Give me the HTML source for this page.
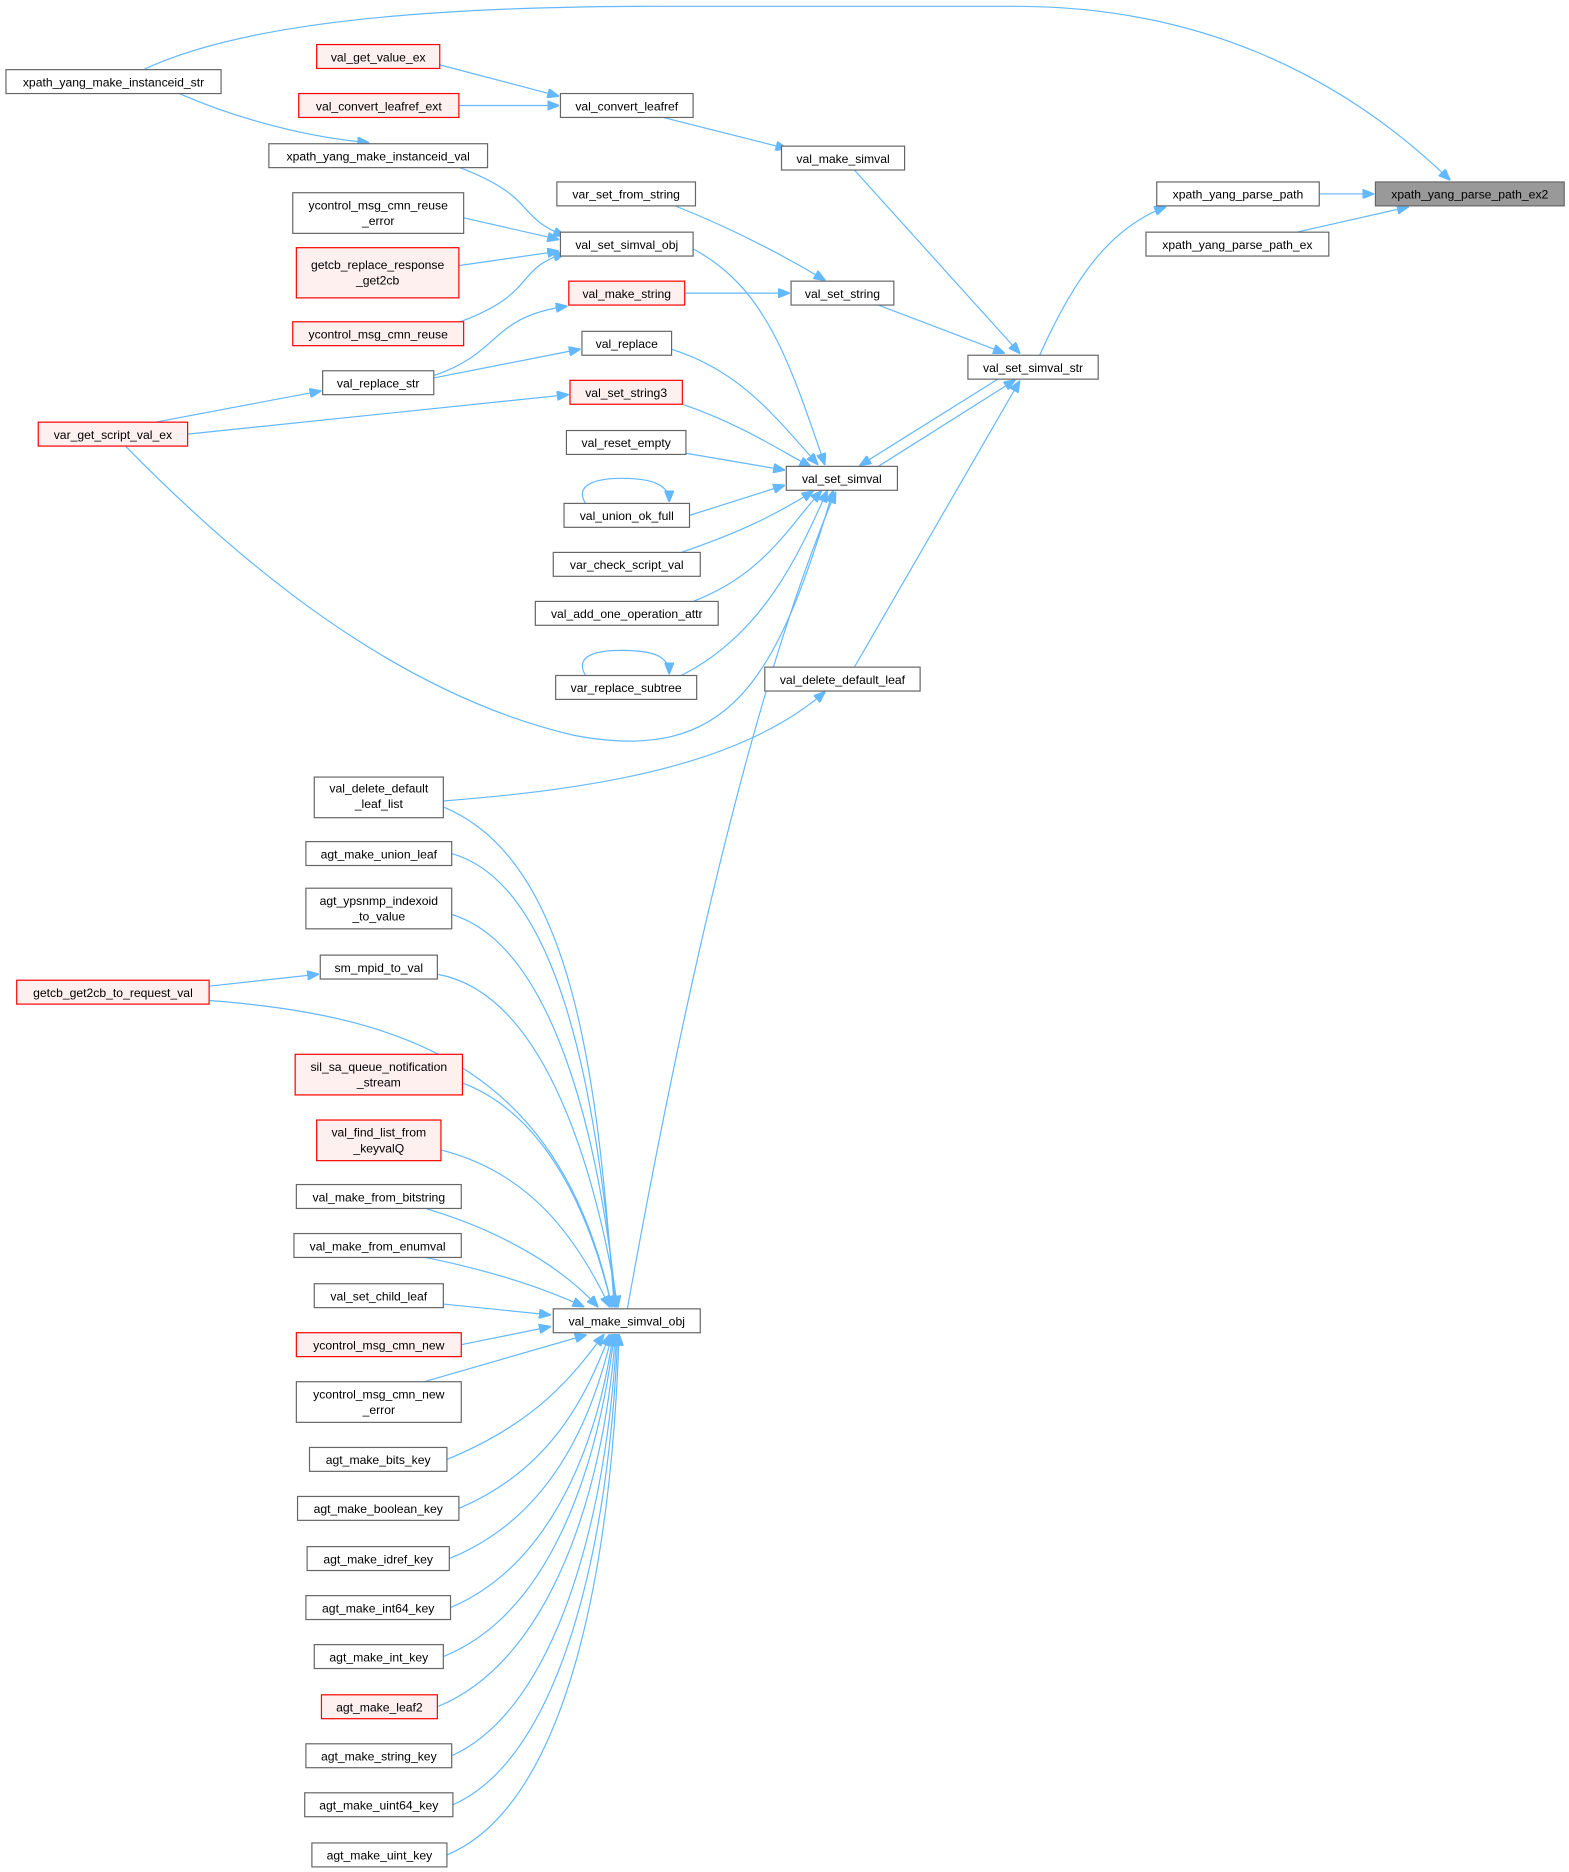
<!DOCTYPE html>
<html><head><meta charset="utf-8"><style>
html,body{margin:0;padding:0;background:#fff}
svg{display:block}
text{font-family:"Liberation Sans",sans-serif;font-size:10.2px;fill:#000;text-anchor:middle}
.n{fill:#fff;stroke:#666;stroke-width:1}
.r{fill:#fff0f0;stroke:#f00;stroke-width:1}
.g{fill:#999;stroke:#666;stroke-width:1}
path.e{fill:none;stroke:#63b8ff;stroke-width:1}
</style></head><body>
<svg width="1569" height="1872" viewBox="0 0 1313 1566" xmlns="http://www.w3.org/2000/svg">
<defs><marker id="a" markerWidth="10" markerHeight="8" refX="9" refY="4" orient="auto" markerUnits="userSpaceOnUse"><path d="M0,0 L10,4 L0,8 z" fill="#63b8ff" stroke="#63b8ff"/></marker></defs>
<g marker-end="url(#a)">
<path class="e" d="M120,58 C200,20 350,5 550,5 L850,5 C1000,5 1120,60 1213,150"/>
<path class="e" d="M150,78 C200,100 260,115 308,119"/>
<path class="e" d="M368,54 L467,80"/>
<path class="e" d="M384,88 L467,88"/>
<path class="e" d="M555,98 L658,124"/>
<path class="e" d="M715,142 L853,295"/>
<path class="e" d="M385,140 C450,165 430,180 472,197"/>
<path class="e" d="M388,182 L467,200"/>
<path class="e" d="M384,222 L467,210"/>
<path class="e" d="M385,269 C450,245 430,225 472,212"/>
<path class="e" d="M565,172 C610,190 650,210 690,234"/>
<path class="e" d="M573,245 L660,245"/>
<path class="e" d="M735,255 L840,295"/>
<path class="e" d="M870,297 C900,230 930,190 975,173"/>
<path class="e" d="M1104,162 L1149,162"/>
<path class="e" d="M1085,194 L1178,173"/>
<path class="e" d="M580,208 C640,240 660,300 690,388"/>
<path class="e" d="M363,314 C420,295 410,265 474,256"/>
<path class="e" d="M363,316 L485,292"/>
<path class="e" d="M562,292 C620,310 650,350 684,388"/>
<path class="e" d="M130,353 L268,327"/>
<path class="e" d="M157,363 L475,330"/>
<path class="e" d="M571,338 C620,355 650,375 678,390"/>
<path class="e" d="M574,379 L656,393"/>
<path class="e" d="M735,390 L849,318"/>
<path class="e" d="M835,317 L720,389"/>
<path class="e" d="M577,431 L656,406"/>
<path class="e" d="M490,421 C480,405 500,400 520,400 C545,400 560,405 560,419"/>
<path class="e" d="M570,462 C620,445 650,430 680,411"/>
<path class="e" d="M580,503 C640,480 660,440 687,411"/>
<path class="e" d="M570,565 C640,530 670,460 692,411"/>
<path class="e" d="M490,565 C480,548 500,544 520,544 C545,544 560,548 560,563"/>
<path class="e" d="M105,373 C200,470 330,580 480,615 C610,640 650,570 697,411"/>
<path class="e" d="M715,558 L853,319"/>
<path class="e" d="M525,1095 C560,900 620,600 699,412"/>
<path class="e" d="M371,670 C500,660 620,640 690,579"/>
<path class="e" d="M371,675 C480,720 500,900 514,1093"/>
<path class="e" d="M378,714 C470,740 500,920 515,1093"/>
<path class="e" d="M378,765 C460,790 500,940 516,1093"/>
<path class="e" d="M175,825 L266,815"/>
<path class="e" d="M366,815 C450,830 495,960 517,1093"/>
<path class="e" d="M175,837 C350,850 470,900 512,1093"/>
<path class="e" d="M387,906 C450,930 490,1000 512,1093"/>
<path class="e" d="M369,962 C440,980 480,1030 510,1093"/>
<path class="e" d="M356,1011 C420,1030 470,1060 500,1093"/>
<path class="e" d="M356,1052 C420,1065 460,1080 488,1093"/>
<path class="e" d="M371,1091 L460,1100"/>
<path class="e" d="M386,1125 L460,1110"/>
<path class="e" d="M355,1156 L490,1117"/>
<path class="e" d="M374,1221 C450,1190 480,1150 505,1117"/>
<path class="e" d="M384,1262 C460,1230 490,1170 510,1117"/>
<path class="e" d="M376,1304 C460,1270 495,1190 512,1117"/>
<path class="e" d="M377,1345 C460,1310 500,1210 513,1117"/>
<path class="e" d="M371,1386 C460,1350 500,1230 514,1117"/>
<path class="e" d="M366,1428 C460,1390 505,1250 515,1117"/>
<path class="e" d="M378,1469 C465,1430 508,1270 516,1117"/>
<path class="e" d="M379,1510 C470,1470 510,1290 517,1117"/>
<path class="e" d="M374,1552 C475,1510 512,1310 518,1117"/>
</g>
<g>
<rect class="n" x="5" y="58" width="180" height="20"/><text x="95" y="72">xpath_yang_make_instanceid_str</text>
<rect class="r" x="265" y="37" width="103" height="20"/><text x="316.5" y="51">val_get_value_ex</text>
<rect class="r" x="250" y="78" width="134" height="20"/><text x="317" y="92">val_convert_leafref_ext</text>
<rect class="n" x="469" y="78" width="111" height="20"/><text x="524.5" y="92">val_convert_leafref</text>
<rect class="n" x="225" y="120" width="183" height="20"/><text x="316.5" y="134">xpath_yang_make_instanceid_val</text>
<rect class="n" x="654" y="122" width="103" height="20"/><text x="705.5" y="136">val_make_simval</text>
<rect class="n" x="466" y="152" width="116" height="20"/><text x="524" y="166">var_set_from_string</text>
<rect class="n" x="245" y="161" width="143" height="34"/><text x="316.5" y="175">ycontrol_msg_cmn_reuse</text><text x="316.5" y="188">_error</text>
<rect class="n" x="469" y="194" width="111" height="20"/><text x="524.5" y="208">val_set_simval_obj</text>
<rect class="n" x="968" y="152" width="136" height="20"/><text x="1036" y="166">xpath_yang_parse_path</text>
<rect class="g" x="1151" y="152" width="158" height="20"/><text x="1230" y="166">xpath_yang_parse_path_ex2</text>
<rect class="n" x="959" y="194" width="153" height="20"/><text x="1035.5" y="208">xpath_yang_parse_path_ex</text>
<rect class="r" x="248" y="207" width="136" height="42"/><text x="316" y="225">getcb_replace_response</text><text x="316" y="238">_get2cb</text>
<rect class="r" x="476" y="235" width="97" height="20"/><text x="524.5" y="249">val_make_string</text>
<rect class="n" x="662" y="235" width="86" height="20"/><text x="705" y="249">val_set_string</text>
<rect class="r" x="245" y="269" width="143" height="20"/><text x="316.5" y="283">ycontrol_msg_cmn_reuse</text>
<rect class="n" x="487" y="277" width="75" height="20"/><text x="524.5" y="291">val_replace</text>
<rect class="n" x="810" y="297" width="109" height="20"/><text x="864.5" y="311">val_set_simval_str</text>
<rect class="n" x="270" y="310" width="93" height="20"/><text x="316.5" y="324">val_replace_str</text>
<rect class="r" x="477" y="318" width="94" height="20"/><text x="524" y="332">val_set_string3</text>
<rect class="r" x="32" y="353" width="125" height="20"/><text x="94.5" y="367">var_get_script_val_ex</text>
<rect class="n" x="474" y="360" width="100" height="20"/><text x="524" y="374">val_reset_empty</text>
<rect class="n" x="658" y="390" width="93" height="20"/><text x="704.5" y="404">val_set_simval</text>
<rect class="n" x="472" y="421" width="105" height="20"/><text x="524.5" y="435">val_union_ok_full</text>
<rect class="n" x="463" y="462" width="123" height="20"/><text x="524.5" y="476">var_check_script_val</text>
<rect class="n" x="448" y="503" width="153" height="20"/><text x="524.5" y="517">val_add_one_operation_attr</text>
<rect class="n" x="465" y="565" width="118" height="20"/><text x="524" y="579">var_replace_subtree</text>
<rect class="n" x="640" y="558" width="130" height="20"/><text x="705" y="572">val_delete_default_leaf</text>
<rect class="n" x="263" y="650" width="108" height="34"/><text x="317" y="663">val_delete_default</text><text x="317" y="676">_leaf_list</text>
<rect class="n" x="256" y="704" width="122" height="20"/><text x="317" y="718">agt_make_union_leaf</text>
<rect class="n" x="256" y="743" width="122" height="34"/><text x="317" y="757">agt_ypsnmp_indexoid</text><text x="317" y="770">_to_value</text>
<rect class="n" x="268" y="799" width="98" height="20"/><text x="317" y="813">sm_mpid_to_val</text>
<rect class="r" x="14" y="820" width="161" height="20"/><text x="94.5" y="834">getcb_get2cb_to_request_val</text>
<rect class="r" x="247" y="882" width="140" height="34"/><text x="317" y="896">sil_sa_queue_notification</text><text x="317" y="909">_stream</text>
<rect class="r" x="265" y="937" width="104" height="34"/><text x="317" y="951">val_find_list_from</text><text x="317" y="964">_keyvalQ</text>
<rect class="n" x="248" y="991" width="138" height="20"/><text x="317" y="1005">val_make_from_bitstring</text>
<rect class="n" x="246" y="1032" width="140" height="20"/><text x="316" y="1046">val_make_from_enumval</text>
<rect class="n" x="263" y="1074" width="108" height="20"/><text x="317" y="1088">val_set_child_leaf</text>
<rect class="n" x="463" y="1095" width="123" height="20"/><text x="524.5" y="1109">val_make_simval_obj</text>
<rect class="r" x="248" y="1115" width="138" height="20"/><text x="317" y="1129">ycontrol_msg_cmn_new</text>
<rect class="n" x="248" y="1156" width="138" height="34"/><text x="317" y="1170">ycontrol_msg_cmn_new</text><text x="317" y="1183">_error</text>
<rect class="n" x="259" y="1211" width="115" height="20"/><text x="316.5" y="1225">agt_make_bits_key</text>
<rect class="n" x="249" y="1252" width="135" height="20"/><text x="316.5" y="1266">agt_make_boolean_key</text>
<rect class="n" x="257" y="1294" width="119" height="20"/><text x="316.5" y="1308">agt_make_idref_key</text>
<rect class="n" x="256" y="1335" width="121" height="20"/><text x="316.5" y="1349">agt_make_int64_key</text>
<rect class="n" x="263" y="1376" width="108" height="20"/><text x="317" y="1390">agt_make_int_key</text>
<rect class="r" x="269" y="1418" width="97" height="20"/><text x="317.5" y="1432">agt_make_leaf2</text>
<rect class="n" x="256" y="1459" width="122" height="20"/><text x="317" y="1473">agt_make_string_key</text>
<rect class="n" x="255" y="1500" width="124" height="20"/><text x="317" y="1514">agt_make_uint64_key</text>
<rect class="n" x="261" y="1542" width="113" height="20"/><text x="317.5" y="1556">agt_make_uint_key</text>
</g>
</svg>
</body></html>
